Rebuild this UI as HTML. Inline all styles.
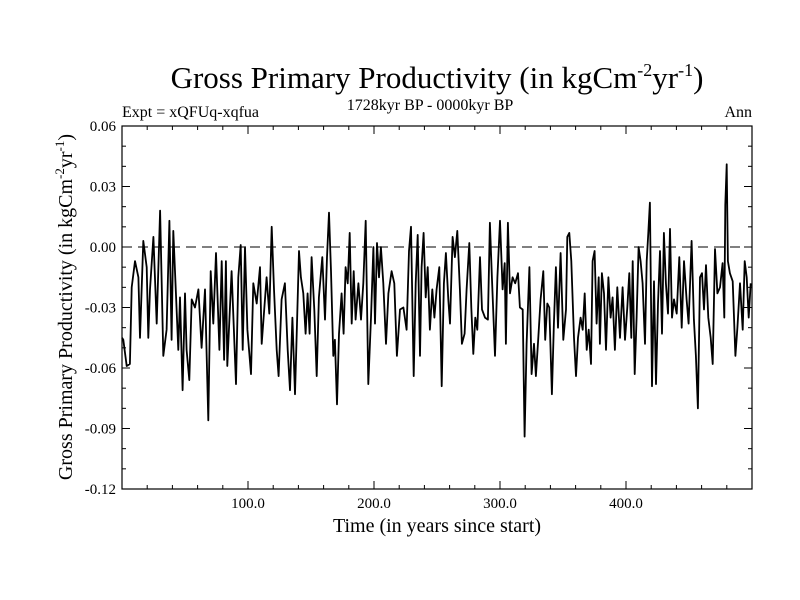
<!DOCTYPE html>
<html><head><meta charset="utf-8"><style>
html,body{margin:0;padding:0;background:#fff;}
svg{display:block;font-family:"Liberation Serif",serif;}
</style></head><body>
<svg id="chart" width="800" height="600" viewBox="0 0 800 600">
<text x="437" y="88" font-size="31" text-anchor="middle">Gross Primary Productivity (in kgCm<tspan dy="-12" font-size="18">-2</tspan><tspan dy="12">yr</tspan><tspan dy="-12" font-size="18">-1</tspan><tspan dy="12">)</tspan></text>
<text x="430" y="110" font-size="16" text-anchor="middle">1728kyr BP - 0000kyr BP</text>
<text x="122" y="117" font-size="16">Expt = xQFUq-xqfua</text>
<text x="752" y="117" font-size="16" text-anchor="end">Ann</text>
<text x="437" y="532" font-size="20" text-anchor="middle">Time (in years since start)</text>
<text transform="translate(72,307) rotate(-90)" font-size="20" text-anchor="middle">Gross Primary Productivity (in kgCm<tspan dy="-8" font-size="13">-2</tspan><tspan dy="8">yr</tspan><tspan dy="-8" font-size="13">-1</tspan><tspan dy="8">)</tspan></text>
<g id="axes"></g>
<g id="series"></g>
</svg>
<script>
const yearsA=[0,1.0,3.7,6.3,7.7,10.3,13.0,14.3,16.9,19.6,20.9,22.2,24.9,27.5,30.2,32.8,35.4,37.6,39.4,40.7,44.7,46.0,48.1,50.0,51.3,53.4,55.3,57.9,60.6,63.2,65.9,68.5,70.4,72.5,74.6,77.3,79.1,81.0,82.5,83.6,87.0,90.5,92.3,94.2,95.8,97.6,99.5,102.4,104.2,106.9,109.5,110.9,114.8,116.9,118.8,120.6,122.8,124.3];
const valuesA=[-45,-46,-59,-58,-20,-7,-15,-45,3,-10,-45,-21,5,-38,18,-54,-41,13,-46,8,-51,-25,-71,-23,-51,-66,-26,-30,-21,-50,-21,-86,-12,-38,-3,-51,-7,-56,-7,-59,-12,-68,-15,1,-51,0,-41,-63,-18,-28,-10,-48,-15,-33,10,-21,-51,-64];
const yearsB=[126.7,129.3,131.5,133.3,135.2,137.3,138.9,140.5,142.0,143.9,145.7,147.3,148.9,150.5,152.6,154.5,156.3,159.0,161.1,162.7,164.3,165.9,167.7,169.0,170.6,172.2,174.3,175.9,177.5,179.1,180.7,182.3,183.9,185.4,187.6,189.7,191.5,193.4,195.5,197.6,199.5,200.8,202.4,204.0,205.5,207.4,209.5,211.4,214.0,216.1,218.2,220.6,223.3,225.9,227.8,229.4,231.5,233.1,234.7,236.5,237.8,239.4,241.0,242.6,244.4,246.3,247.9];
const valuesB=[-26,-18,-51,-71,-35,-73,-38,-2,-15,-23,-43,-23,-43,-5,-31,-64,-25,-5,-36,-5,17,-12,-54,-46,-78,-43,-23,-43,-10,-18,7,-38,-12,-36,-18,-36,-18,13,-68,-35,0,-38,2,-15,0,-18,-48,-23,-12,-18,-54,-31,-30,-41,-2,10,-64,-18,6,-54,-10,7,-25,-10,-41,-21,-35];
const yearsC=[249.7,251.8,253.7,255.5,257.1,259.0,260.3,262.4,264.2,266.1,268.2,269.8,271.9,273.5,275.6,277.2,278.8,280.4,282.0,284.1,285.7,288.1,290.4,292.0,293.6,296.0,297.9,300.0,302.1,303.7,304.7,306.3,307.9,310.0,312.1,314.3,315.8,318.0,319.5,321.1,323.3,325.1,327.0,328.5,330.4,332.2,334.4,335.9,337.5,339.1,341.2,342.8,344.4,346.0,348.1,350.2,352.4,353.4,355.0,356.6,358.7,360.3,361.9,364.0,365.6,367.2,368.8,370.4];
const valuesC=[-21,-10,-69,-18,-3,-26,-38,5,-5,8,-21,-48,-43,-21,2,-30,-53,-35,-41,-5,-31,-35,-36,12,-15,-54,-15,13,-21,-8,-48,12,-23,-15,-18,-13,-30,-31,-94,-48,-10,-63,-48,-64,-45,-26,-12,-46,-28,-30,-73,-38,-10,-40,-3,-46,-31,5,7,-7,-45,-64,-45,-35,-41,-23,-51,-41];
const yearsD=[372.2,373.5,375.1,376.7,378.3,379.3,380.9,382.5,384.1,386.0,387.8,389.4,391.2,393.1,395.2,397.3,399.2,401.0,402.6,404.2,405.3,406.9,408.4,410.0,411.6,413.2,415.1,416.4,417.7,419.0,420.6,422.2,423.8,425.4,427.0,428.6,430.1,431.7,433.3,434.9,436.5,438.1,440.2,442.3,444.2,446.0,448.1,449.7,452.1,453.9,455.5,457.1,458.7,460.3,461.9,463.5,465.3,467.2,468.8,470.6,472.5,474.6,476.7,478.0,478.8,479.9,480.9,482.5,484.7,486.8,488.4,490.5,492.6,494.2,495.8,497.4,499.0];
const valuesD=[-58,-7,-2,-38,-15,-48,-13,-23,-51,-15,-35,-25,-51,-20,-45,-20,-46,-30,-13,-45,-7,-63,-35,0,-7,-18,-48,-7,7,22,-69,-17,-68,-28,-2,-43,7,-18,-33,9,-35,-26,-33,-5,-40,-7,-26,-38,3,-36,-54,-80,-15,-13,-31,-9,-35,-45,-58,-1,-23,-20,-8,-35,21,41,-7,-13,-17,-54,-40,-18,-41,-7,-15,-35,-18];
const yTicks=[0.06,0.03,0.00,-0.03,-0.06,-0.09,-0.12];
const yTickLabels=["0.06","0.03","0.00","-0.03","-0.06","-0.09","-0.12"];
const xTicks=[100,200,300,400];
const xTickLabels=["100.0","200.0","300.0","400.0"];

const L=122,R=752,T=126,B=489,X0=0,X1=500,Y0=-0.12,Y1=0.06;
const xs=v=>L+(v-X0)/(X1-X0)*(R-L);
const ys=v=>B-(v-Y0)/(Y1-Y0)*(B-T);
const NS="http://www.w3.org/2000/svg";
const axes=document.getElementById('axes');
function mk(tag,attrs,parent){const e=document.createElementNS(NS,tag);for(const k in attrs)e.setAttribute(k,attrs[k]);parent.appendChild(e);return e;}

const frame=mk('rect',{x:L,y:T,width:R-L,height:B-T,fill:'none',stroke:'#000','stroke-width':1.2},axes);



const zero=mk('line',{x1:L,x2:R,y1:ys(0),y2:ys(0),stroke:'#000','stroke-width':1,'stroke-dasharray':'10,6'},axes);



for(let v=Y0;v<=Y1+1e-9;v+=0.01){
  const y=ys(v);const major=Math.abs(Math.round(v*1000)%30)<1;const len=major?8:4;
  mk('line',{x1:L,x2:L+len,y1:y,y2:y,stroke:'#000'},axes);
  mk('line',{x1:R,x2:R-len,y1:y,y2:y,stroke:'#000'},axes);
}
yTicks.forEach((v,i)=>{
  const t=mk('text',{x:L-6,y:ys(v)+5,'font-size':15,'text-anchor':'end'},axes);
  t.textContent=yTickLabels[i];
  
  
});
for(let v=20;v<X1;v+=20){
  const x=xs(v);const major=v%100===0;const len=major?8:4;
  mk('line',{x1:x,x2:x,y1:B,y2:B-len,stroke:'#000'},axes);
  mk('line',{x1:x,x2:x,y1:T,y2:T+len,stroke:'#000'},axes);
}
xTicks.forEach((v,i)=>{
  const t=mk('text',{x:xs(v),y:B+19,'font-size':15,'text-anchor':'middle'},axes);
  t.textContent=xTickLabels[i];
  
  
});

const years=[].concat(yearsA,yearsB,yearsC,yearsD);
const vals=[].concat(valuesA,valuesB,valuesC,valuesD);
const d=years.map((yr,i)=>(i?'L':'M')+xs(yr).toFixed(1)+','+ys(vals[i]/1000).toFixed(1)).join('');
const line=mk('path',{d:d,fill:'none',stroke:'#000','stroke-width':1.8,'stroke-linejoin':'round'},document.getElementById('series'));


</script>
</body></html>
